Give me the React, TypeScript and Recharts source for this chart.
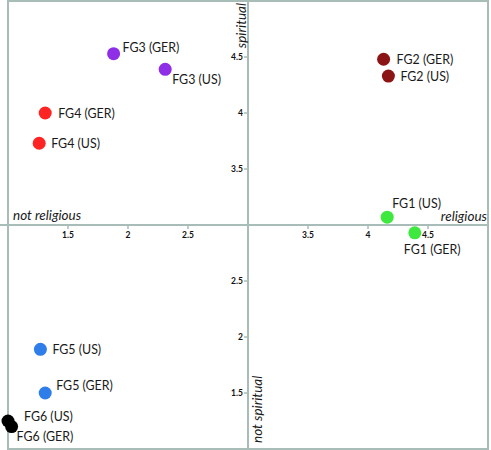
import React from "react";
import {
  ScatterChart,
  Scatter,
  XAxis,
  YAxis,
  ReferenceLine,
  ReferenceDot,
  ReferenceArea,
} from "recharts";

// focus groups, religiousness (x) and spirituality (y)
const groups = ["FG1", "FG2", "FG3", "FG4", "FG5", "FG6"];
const religiousUS = [4.16, 4.17, 2.31, 1.26, 1.27, 1.0];
const spiritualUS = [3.07, 4.33, 4.39, 3.73, 1.89, 1.25];
const religiousGER = [4.39, 4.13, 1.88, 1.31, 1.31, 1.03];
const spiritualGER = [2.93, 4.48, 4.53, 4.0, 1.5, 1.2];

const xTicks = [1.5, 2, 2.5, 3.5, 4, 4.5];
const yTicks = [1.5, 2, 2.5, 3.5, 4, 4.5];

const COLORS = ["#3fe83f", "#8b1414", "#8e2ee6", "#ff2424", "#2f7de8", "#000000"];
// label offsets [dx, dy] from the dot centre
const OFFSET_US = [[5, -14], [12, 0], [7, 10], [12, 0], [12, 0], [16, -5]];
const OFFSET_GER = [[-11, 17], [13, 0], [9, -6], [13, 0], [11, -8], [5, 10]];

const AXIS = "#a9bdb8";
const FONT = "Lato, 'Liberation Sans', sans-serif";

const seriesData = groups.map((g, i) => [
  { x: religiousUS[i], y: spiritualUS[i], label: `${g} (US)`, off: OFFSET_US[i] },
  { x: religiousGER[i], y: spiritualGER[i], label: `${g} (GER)`, off: OFFSET_GER[i] },
]);

const Dot = (props: any) => {
  const { cx, cy, fill, payload } = props;
  return (
    <g>
      <circle cx={cx} cy={cy} r={6.5} fill={fill} />
      <text
        x={cx + payload.off[0]}
        y={cy + payload.off[1]}
        dominantBaseline="central"
        fontFamily={FONT}
        fontSize={12.4}
        fill="#1a1a1a"
      >
        {payload.label}
      </text>
    </g>
  );
};

const XTick = (label: number) => (props: any) => (
  <g>
    <line x1={props.cx} x2={props.cx} y1={props.cy} y2={props.cy + 4} stroke={AXIS} strokeWidth={1.5} />
    <text x={props.cx} y={props.cy + 10} textAnchor="middle" dominantBaseline="central"
      fontFamily={FONT} fontWeight="bold" fontSize={8.5} fill="#111">
      {label}
    </text>
  </g>
);

const YTick = (label: number) => (props: any) => (
  <g>
    <line x1={props.cx - 4} x2={props.cx} y1={props.cy} y2={props.cy} stroke={AXIS} strokeWidth={1.5} />
    <text x={props.cx - 5} y={props.cy} textAnchor="end" dominantBaseline="central"
      fontFamily={FONT} fontWeight="bold" fontSize={8.5} fill="#111">
      {label}
    </text>
  </g>
);

const axisText = (text: string, dx: number, dy: number, anchor: string, rotate = 0) =>
  (props: any) => (
    <text
      transform={`translate(${props.cx + dx},${props.cy + dy}) rotate(${rotate})`}
      textAnchor={anchor}
      fontFamily={FONT}
      fontStyle="italic"
      fontSize={13.5}
      fill="#1a1a1a"
    >
      {text}
    </text>
  );

export default function App() {
  return (
    <div>
      <style>{`body{margin:0}`}</style>
      <ScatterChart width={491} height={450} margin={{ top: 1, right: 3, bottom: 1, left: 0 }}>
        <XAxis type="number" dataKey="x" domain={[1, 5]} hide padding={{ left: 8, right: 0 }} />
        <YAxis type="number" dataKey="y" domain={[1, 5]} hide />
        <ReferenceArea x1={1} x2={5} y1={1} y2={5} fill="none" stroke={AXIS} strokeWidth={2} />
        <ReferenceLine x={3} stroke={AXIS} strokeWidth={2} />
        <ReferenceLine y={3} stroke={AXIS} strokeWidth={2} />
        {xTicks.map((t) => (
          <ReferenceDot key={`xt${t}`} x={t} y={3} r={0} shape={XTick(t)} />
        ))}
        {yTicks.map((t) => (
          <ReferenceDot key={`yt${t}`} x={3} y={t} r={0} shape={YTick(t)} />
        ))}
        <ReferenceDot x={1} y={3} r={0} shape={axisText("not religious", 5, -5, "start")} />
        <ReferenceDot x={5} y={3} r={0} shape={axisText("religious", -1, -4, "end")} />
        <ReferenceDot x={3} y={5} r={0} shape={axisText("spiritual", -2, 2, "end", -90)} />
        <ReferenceDot x={3} y={1} r={0} shape={axisText("not spiritual", 14, -6, "start", -90)} />
        {seriesData.map((d, i) => (
          <Scatter
            key={groups[i]}
            name={groups[i]}
            data={d}
            fill={COLORS[i]}
            shape={Dot}
            isAnimationActive={false}
          />
        ))}
      </ScatterChart>
    </div>
  );
}
